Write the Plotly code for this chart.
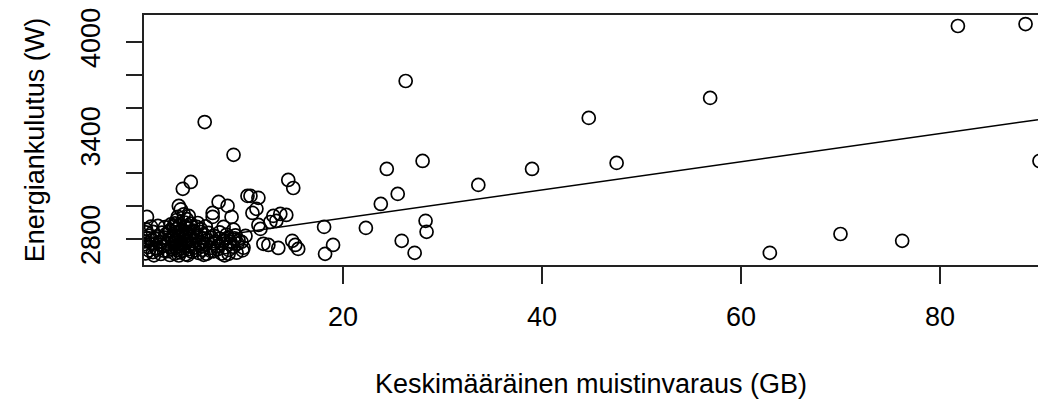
import plotly.graph_objects as go

# --- data ---
memory_gb = [
    # outer points
    26.3, 44.7, 56.9, 81.8, 88.6, 90.0, 62.9, 70.0, 76.2, 39.0, 47.5, 33.6,
    24.4, 28.0, 25.5, 23.8, 22.3, 28.3, 28.4, 25.9, 27.2, 18.1, 19.0, 18.2,
    # middle group
    6.1, 9.0, 3.9, 4.7, 14.5, 15.0, 3.5, 7.5, 8.4, 10.4, 10.7, 11.5, 11.3,
    6.9, 6.9, 8.8, 10.9, 13.0, 13.7, 14.3, 13.3, 12.7, 11.5, 11.7, 10.2, 9.8,
    12.0, 12.5, 13.5, 14.9, 15.2, 15.5, 8.5, 8.0, 1.4, 0.3,
    # dense group, bottom row
    0.2, 0.9, 1.7, 2.4, 3.1, 3.6, 4.2, 4.8, 5.5, 6.3, 7.0, 7.8, 9.3,
    0.5, 1.3, 2.0, 2.8, 3.4, 3.9, 4.5, 5.2, 5.9, 6.7, 7.4, 8.5, 9.9,
    # row
    0.4, 1.2, 2.0, 2.8, 3.4, 3.9, 4.5, 5.1, 5.8, 6.6, 7.4, 8.2, 9.0, 10.0,
    0.1, 0.8, 1.6, 2.4, 3.1, 3.7, 4.2, 4.8, 5.5, 6.2, 7.0, 7.8, 8.6, 9.4,
    # row
    0.1, 0.8, 1.6, 2.5, 3.2, 3.7, 4.3, 4.9, 5.6, 6.4, 7.2, 8.0, 8.7, 9.5,
    0.4, 1.2, 2.1, 2.9, 3.5, 4.0, 4.6, 5.2, 6.0, 6.8, 7.6, 8.4, 9.1,
    # row
    0.5, 1.3, 2.2, 3.0, 3.5, 4.0, 4.6, 5.3, 6.1, 7.0, 8.3, 9.2,
    0.2, 0.9, 1.8, 2.6, 3.3, 3.8, 4.3, 4.9, 5.7, 6.5, 7.6,
    # row
    0.2, 2.6, 3.3, 3.8, 4.4, 5.0, 5.7, 9.0,
    0.7, 2.1, 3.0, 3.6, 4.1, 4.7, 5.3, 6.2,
    # upper rows of the peak
    3.1, 3.6, 4.1, 4.7, 5.4, 2.7,
    3.4, 4.0, 4.5, 3.7, 3.3, 4.3,
    # lowest points
    1.0, 2.6, 3.5, 4.4, 6.0, 8.1,
]
energy_w = [
    3762, 3537, 3659, 4097, 4109, 3275, 2715, 2830, 2788, 3226, 3263, 3129,
    3226, 3275, 3074, 3013, 2867, 2910, 2843, 2788, 2715, 2873, 2763, 2709,
    3512, 3312, 3105, 3147, 3159, 3110, 3001, 3025, 3001, 3062, 3062, 3050, 2983,
    2958, 2934, 2934, 2958, 2940, 2952, 2946, 2910, 2903, 2885, 2861, 2818, 2782,
    2770, 2763, 2745, 2788, 2763, 2739, 2709, 2873, 2879, 2934,
    2712, 2720, 2708, 2725, 2710, 2718, 2706, 2722, 2714, 2709, 2724, 2711, 2716,
    2730, 2735, 2728, 2738, 2732, 2729, 2736, 2731, 2734, 2727, 2737, 2733, 2730,
    2750, 2745, 2758, 2748, 2755, 2742, 2760, 2747, 2753, 2744, 2757, 2749, 2752, 2746,
    2768, 2772, 2765, 2770, 2775, 2766, 2771, 2769, 2774, 2767, 2773, 2770, 2768, 2772,
    2785, 2792, 2780, 2788, 2795, 2783, 2790, 2786, 2781, 2793, 2784, 2789, 2782, 2791,
    2805, 2800, 2808, 2803, 2810, 2806, 2802, 2809, 2804, 2807, 2801, 2806, 2803,
    2820, 2815, 2828, 2822, 2818, 2830, 2825, 2816, 2823, 2819, 2826, 2821,
    2840, 2843, 2838, 2845, 2841, 2846, 2839, 2844, 2842, 2837, 2840,
    2858, 2852, 2862, 2855, 2865, 2850, 2860, 2856,
    2875, 2872, 2878, 2880, 2874, 2877, 2873, 2876,
    2895, 2890, 2900, 2893, 2897, 2888,
    2935, 2950, 2940, 2980, 2915, 2920,
    2700, 2702, 2699, 2701, 2703, 2700,
]

# regression line
fit_intercept = 2754.5
fit_slope = 8.59

x_range = [0.0, 89.85]
y_range = [2641, 4164]

x_tickvals = [20, 40, 60, 80]
x_ticktext = ["20", "40", "60", "80"]
y_tickvals = [2800, 3000, 3200, 3400, 3600, 3800, 4000]
y_ticktext = ["2800", "", "", "3400", "", "", "4000"]

x_title = "Keskimääräinen muistinvaraus (GB)"
y_title = "Energiankulutus (W)"

font_family = "Liberation Sans, Arial, Helvetica, sans-serif"

fig = go.Figure()
fig.add_trace(go.Scatter(
    x=memory_gb, y=energy_w, mode="markers",
    marker=dict(symbol="circle-open", size=13, color="black",
                line=dict(width=1.7, color="black")),
    showlegend=False, hoverinfo="skip",
))
line_x = [x_range[0], x_range[1]]
line_y = [fit_intercept + fit_slope * v for v in line_x]
fig.add_trace(go.Scatter(
    x=line_x, y=line_y, mode="lines",
    line=dict(color="black", width=1.4),
    showlegend=False, hoverinfo="skip",
))

fig.update_layout(
    width=1038, height=403,
    margin=dict(l=144, r=0, t=15, b=138),
    paper_bgcolor="white", plot_bgcolor="white",
    font=dict(family=font_family, size=27, color="black"),
    xaxis=dict(
        range=x_range, tickvals=x_tickvals, ticktext=x_ticktext,
        showgrid=False, zeroline=False,
        showline=True, mirror=True, linecolor="#222", linewidth=1.5,
        ticks="outside", ticklen=17, tickwidth=1.5, tickcolor="#222",
        ticklabelstandoff=10,
        title=dict(text=x_title, standoff=43, font=dict(size=27)),
    ),
    yaxis=dict(
        range=y_range, tickvals=y_tickvals, ticktext=y_ticktext,
        showgrid=False, zeroline=False,
        showline=True, mirror=False, linecolor="#222", linewidth=1.5,
        ticks="outside", ticklen=16, tickwidth=1.5, tickcolor="#222",
        tickangle=-90, ticklabelstandoff=15,
        title=dict(text=y_title, standoff=24, font=dict(size=27)),
    ),
)

fig.write_html("out.html")
